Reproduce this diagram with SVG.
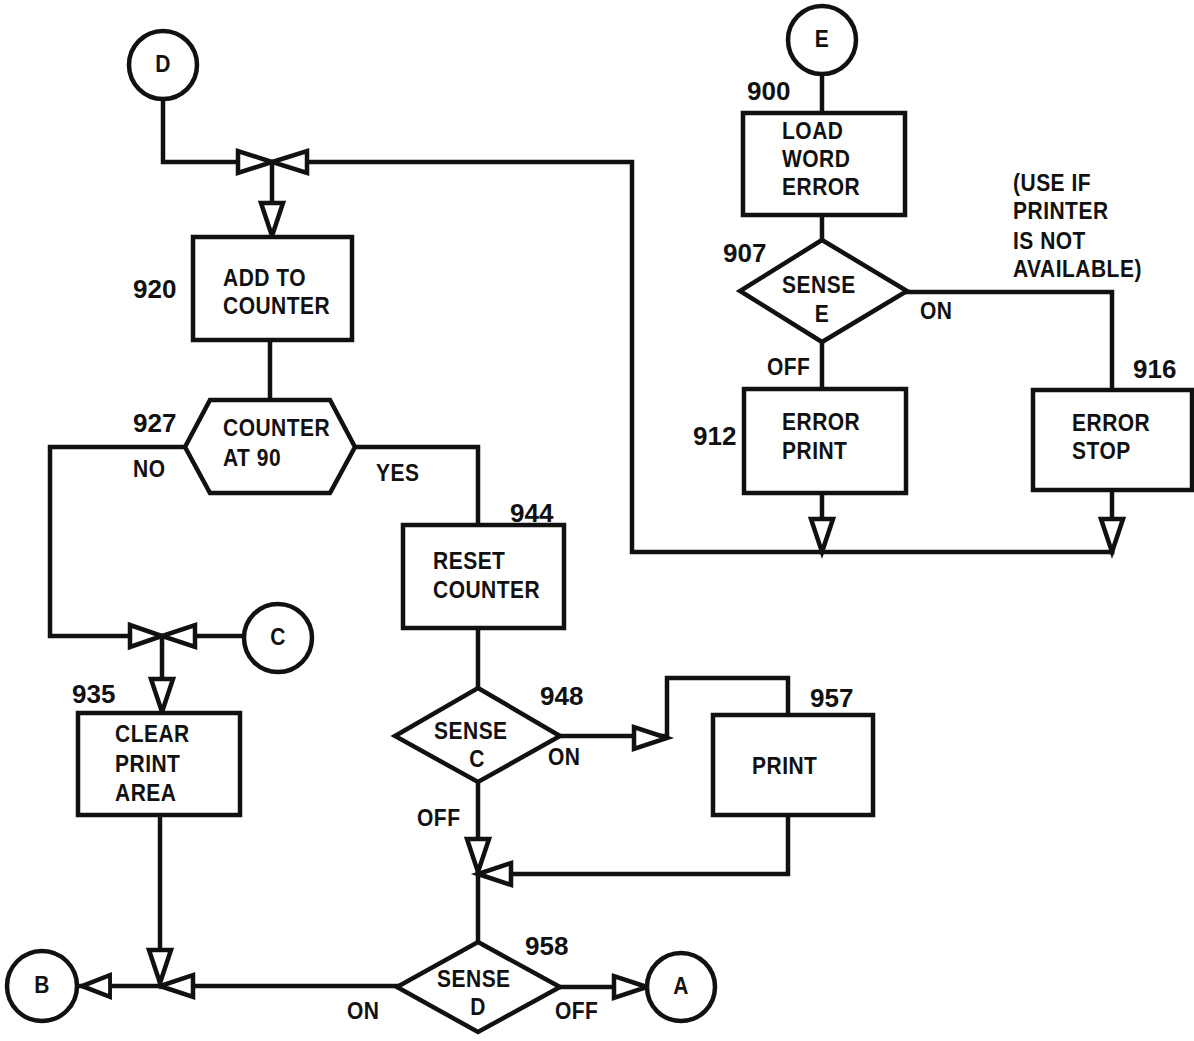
<svg xmlns="http://www.w3.org/2000/svg" xmlns:xlink="http://www.w3.org/1999/xlink" width="1194" height="1041" viewBox="0 0 1194 1041">
<style>
.bg{fill:#ffffff}
.s{fill:#ffffff;stroke:#111;stroke-width:4.5;stroke-linejoin:miter}
.c{fill:none;stroke:#111;stroke-width:4.5;stroke-linejoin:miter;stroke-linecap:square}
.t{font-family:"Liberation Sans",Arial,sans-serif;font-weight:bold;font-size:21px;fill:#111;letter-spacing:0.5px;transform-box:fill-box;transform-origin:50% 100%;transform:scaleY(1.15)}
.n{font-family:"Liberation Sans",Arial,sans-serif;font-weight:bold;font-size:26px;fill:#111}
.m{text-anchor:middle}
</style>
<defs>
<path id="tri" d="M0,0 L-33,-11 L-33,11 Z" fill="#ffffff" stroke="#111" stroke-width="4.5" stroke-linejoin="miter"/>
</defs>
<rect class="bg" x="0" y="0" width="1194" height="1041"/>

<g id="connectors">
<path class="c" d="M163,99 V162 H238"/>
<path class="c" d="M307,162 H632 V552 H1112"/>
<path class="c" d="M272,162 V236"/>
<path class="c" d="M270,340 V400"/>
<path class="c" d="M185,447 H50 V636 H130"/>
<path class="c" d="M195,636 H244"/>
<path class="c" d="M162,636 V712"/>
<path class="c" d="M355,447 H478 V525"/>
<path class="c" d="M478,628 V688"/>
<path class="c" d="M560,736 H667 V678 H788 V715"/>
<path class="c" d="M788,815 V874 H480"/>
<path class="c" d="M478,782 V942"/>
<path class="c" d="M160,815 V986"/>
<path class="c" d="M77,986 H397"/>
<path class="c" d="M560,987 H647"/>
<path class="c" d="M822,74 V113"/>
<path class="c" d="M822,215 V240"/>
<path class="c" d="M822,342 V389"/>
<path class="c" d="M822,493 V552"/>
<path class="c" d="M907,292 H1112 V390"/>
<path class="c" d="M1112,490 V552"/>
<!-- collectors -->
<polygon class="s" points="238,151 238,173 272,162"/>
<polygon class="s" points="307,151 307,173 272,162"/>
<polygon class="s" points="130,625 130,647 162,636"/>
<polygon class="s" points="195,625 195,647 162,636"/>
<!-- arrowheads -->
<use xlink:href="#tri" transform="translate(272,236) rotate(90)"/>
<use xlink:href="#tri" transform="translate(162,712) rotate(90)"/>
<use xlink:href="#tri" transform="translate(160,983) rotate(90)"/>
<use xlink:href="#tri" transform="translate(160,986) rotate(180)"/>
<use xlink:href="#tri" transform="translate(82,986) rotate(180) scale(0.85,1)"/>
<use xlink:href="#tri" transform="translate(647,987)"/>
<use xlink:href="#tri" transform="translate(667,738)"/>
<use xlink:href="#tri" transform="translate(478,874) rotate(180)"/>
<use xlink:href="#tri" transform="translate(478,872) rotate(90)"/>
<use xlink:href="#tri" transform="translate(822,552) rotate(90)"/>
<use xlink:href="#tri" transform="translate(1112,552) rotate(90)"/>
</g>

<g id="D">
<circle class="s" cx="163" cy="65" r="34"/>
<text class="t m" x="163" y="73">D</text>
</g>

<g id="n920">
<rect class="s" x="193" y="237" width="159" height="103"/>
<text class="n" x="133" y="298">920</text>
<text class="t" x="223" y="287">ADD TO</text>
<text class="t" x="223" y="315">COUNTER</text>
</g>

<g id="n927">
<polygon class="s" points="210,400 330,400 355,447 330,493 210,493 185,447"/>
<text class="n" x="133" y="432">927</text>
<text class="t" x="223" y="437">COUNTER</text>
<text class="t" x="223" y="467">AT 90</text>
<text class="t" x="133" y="478">NO</text>
<text class="t" x="376" y="482">YES</text>
</g>

<g id="C">
<circle class="s" cx="278" cy="638" r="34"/>
<text class="t m" x="278" y="646">C</text>
</g>

<g id="n935">
<rect class="s" x="78" y="713" width="162" height="102"/>
<text class="n" x="72" y="703">935</text>
<text class="t" x="115" y="743">CLEAR</text>
<text class="t" x="115" y="773">PRINT</text>
<text class="t" x="115" y="802">AREA</text>
</g>

<g id="n944">
<rect class="s" x="403" y="525" width="161" height="103"/>
<text class="n" x="510" y="522">944</text>
<text class="t" x="433" y="570">RESET</text>
<text class="t" x="433" y="599">COUNTER</text>
</g>

<g id="n948">
<polygon class="s" points="478,688 560,736 478,782 395,736"/>
<text class="n" x="540" y="705">948</text>
<text class="t" x="434" y="740">SENSE</text>
<text class="t m" x="477" y="768">C</text>
<text class="t" x="548" y="766">ON</text>
<text class="t" x="417" y="827">OFF</text>
</g>

<g id="n957">
<rect class="s" x="713" y="715" width="160" height="100"/>
<text class="n" x="810" y="707">957</text>
<text class="t" x="752" y="775">PRINT</text>
</g>

<g id="n958">
<polygon class="s" points="478,942 560,987 478,1032 397,987"/>
<text class="n" x="525" y="955">958</text>
<text class="t" x="437" y="988">SENSE</text>
<text class="t m" x="478" y="1016">D</text>
<text class="t" x="347" y="1020">ON</text>
<text class="t" x="555" y="1020">OFF</text>
</g>

<g id="B">
<circle class="s" cx="42" cy="986" r="35"/>
<text class="t m" x="42" y="994">B</text>
</g>

<g id="A">
<circle class="s" cx="681" cy="987" r="34"/>
<text class="t m" x="681" y="995">A</text>
</g>

<g id="E">
<circle class="s" cx="822" cy="40" r="34"/>
<text class="t m" x="822" y="48">E</text>
</g>

<g id="n900">
<rect class="s" x="743" y="113" width="162" height="102"/>
<text class="n" x="747" y="100">900</text>
<text class="t" x="782" y="140">LOAD</text>
<text class="t" x="782" y="168">WORD</text>
<text class="t" x="782" y="196">ERROR</text>
</g>

<g id="n907">
<polygon class="s" points="822,240 907,291 822,342 740,291"/>
<text class="n" x="723" y="262">907</text>
<text class="t" x="782" y="294">SENSE</text>
<text class="t m" x="822" y="323">E</text>
<text class="t" x="920" y="320">ON</text>
<text class="t" x="767" y="376">OFF</text>
</g>

<g id="note">
<text class="t" x="1013" y="192">(USE IF</text>
<text class="t" x="1013" y="220">PRINTER</text>
<text class="t" x="1013" y="250">IS NOT</text>
<text class="t" x="1013" y="278">AVAILABLE)</text>
</g>

<g id="n912">
<rect class="s" x="744" y="389" width="162" height="104"/>
<text class="n" x="693" y="445">912</text>
<text class="t" x="782" y="431">ERROR</text>
<text class="t" x="782" y="460">PRINT</text>
</g>

<g id="n916">
<rect class="s" x="1033" y="390" width="159" height="100"/>
<text class="n" x="1133" y="378">916</text>
<text class="t" x="1072" y="432">ERROR</text>
<text class="t" x="1072" y="460">STOP</text>
</g>
</svg>
